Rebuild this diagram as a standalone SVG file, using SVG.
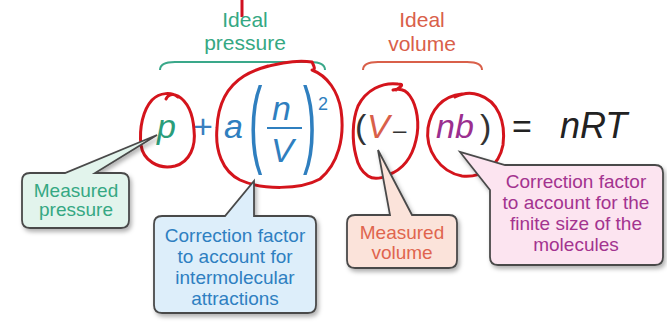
<svg xmlns="http://www.w3.org/2000/svg" width="667" height="325" viewBox="0 0 667 325">
<defs>
<filter id="sh" x="-10%" y="-10%" width="125%" height="130%">
<feDropShadow dx="2" dy="3" stdDeviation="2" flood-color="#000" flood-opacity="0.3"/>
</filter>
<style>
.eq{font-family:"Liberation Sans",Arial,sans-serif;font-size:34px}
.it{font-style:italic}
.lbl{font-family:"Liberation Sans",Arial,sans-serif;font-size:21px;text-anchor:middle}
.bx{font-family:"Liberation Sans",Arial,sans-serif;font-size:19px;text-anchor:middle}
.call{stroke:#4a4a4a;stroke-width:1.8;filter:url(#sh)}
.ring{fill:none;stroke:#d4141c;stroke-width:3;stroke-linecap:round;stroke-linejoin:round}
.brace{fill:none;stroke-width:2}
</style>
</defs>
<rect width="667" height="325" fill="#fff"/>

<g id="connectors">
<line x1="242" y1="0" x2="242" y2="17" stroke="#d01020" stroke-width="3"/>
<path class="brace" stroke="#3aa88a" d="M160,70 C160,64 165,62 175,62 L310,62 C320,62 325,64 325,70"/>
<path class="brace" stroke="#d9604a" d="M363,70 C363,64 368,62 378,62 L467,62 C477,62 482,64 482,70"/>
</g>

<g id="ideal-pressure">
<text class="lbl" x="245" y="27" fill="#35a883">Ideal</text>
<text class="lbl" x="245" y="50" fill="#35a883">pressure</text>
</g>
<g id="ideal-volume">
<text class="lbl" x="422" y="27" fill="#d9604a">Ideal</text>
<text class="lbl" x="422" y="51" fill="#d9604a">volume</text>
</g>

<g id="equation">
<text class="eq it" x="157" y="138" fill="#2a9d7a">p</text>
<text class="eq" x="193" y="138" fill="#3a7fbf">+</text>
<text class="eq it" x="224" y="138" fill="#2f7fbf">a</text>
<text class="eq" transform="translate(249,155) scale(1,2.4)" style="font-size:40px" fill="#2f7fbf">(</text>
<text class="eq it" x="272" y="120" fill="#2f7fbf">n</text>
<line x1="267" y1="128" x2="302" y2="128" stroke="#2f7fbf" stroke-width="2"/>
<text class="eq it" x="271" y="162" fill="#2f7fbf">V</text>
<text class="eq" transform="translate(303,155) scale(1,2.4)" style="font-size:40px" fill="#2f7fbf">)</text>
<text class="eq" x="318" y="110" style="font-size:18px" fill="#2f7fbf">2</text>
<text class="eq" x="355" y="138" fill="#333">(</text>
<text class="eq it" x="367" y="138" fill="#d9604a">V</text>
<text class="eq" x="393" y="138" style="font-size:24px" fill="#333">–</text>
<text class="eq it" x="436" y="138" fill="#9b2f8f">nb</text>
<text class="eq" x="480" y="138" fill="#333">)</text>
<text class="eq" x="512" y="138" fill="#222">=</text>
<text class="eq it" x="560" y="138" style="font-size:36px" fill="#222">nRT</text>
</g>

<g id="rings">
<path class="ring" d="M178,97 C172,92 160,92 152,100 C143,110 139,128 141,145 C143,160 158,170 175,166 C190,162 196,146 194,130 C193,115 188,102 178,96 C172,93 168,95 166,99"/>
<path class="ring" d="M262,68 C282,62 300,60 312,62 C314,66 316,70 312,70 C328,76 338,92 341,110 C345,138 338,164 320,179 C300,190 262,190 240,180 C222,171 215,150 217,128 C218,104 228,86 244,76 C252,71 258,69 268,66"/>
<path class="ring" d="M396,90 C402,86 404,84 398,84 C382,82 366,90 358,106 C352,121 352,141 356,156 C358,166 362,172 368,176 C374,180 382,178 388,175 C402,170 412,158 416,140 C420,124 417,106 410,96 C406,90 400,88 393,90"/>
<path class="ring" d="M462,94 C442,96 431,110 428,128 C425,150 440,172 462,176 C482,178 499,166 503,145 C506,122 498,101 479,95 C471,92 463,93 455,97"/>
</g>

<g id="measured-pressure">
<path class="call" fill="#e2f4ec" d="M30,173 L65,173 L157,135 L95,173 L121,173 Q129,173 129,181 L129,220 Q129,228 121,228 L30,228 Q22,228 22,220 L22,181 Q22,173 30,173 Z"/>
<text class="bx" x="76" y="197" fill="#35a883">Measured</text>
<text class="bx" x="76" y="216" fill="#35a883">pressure</text>
</g>

<g id="attraction-correction">
<path class="call" fill="#ddeefa" d="M162,216 L225,216 L254,181 L254,216 L308,216 Q316,216 316,224 L316,305 Q316,313 308,313 L162,313 Q154,313 154,305 L154,224 Q154,216 162,216 Z"/>
<text class="bx" x="235" y="242" fill="#2e7fc1">Correction factor</text>
<text class="bx" x="235" y="263" fill="#2e7fc1">to account for</text>
<text class="bx" x="235" y="284" fill="#2e7fc1">intermolecular</text>
<text class="bx" x="235" y="305" fill="#2e7fc1">attractions</text>
</g>

<g id="measured-volume">
<path class="call" fill="#fbe3da" d="M355,215 L390,215 L378,150 L412,215 L449,215 Q457,215 457,223 L457,260 Q457,268 449,268 L355,268 Q347,268 347,260 L347,223 Q347,215 355,215 Z"/>
<text class="bx" x="402" y="239" fill="#e0654e">Measured</text>
<text class="bx" x="402" y="259" fill="#e0654e">volume</text>
</g>

<g id="size-correction">
<path class="call" fill="#fce4f0" d="M505,165 L655,165 Q663,165 663,173 L663,257 Q663,265 655,265 L498,265 Q490,265 490,257 L490,190 L460,152 L505,165 Z"/>
<text class="bx" x="576" y="188" fill="#a3338f">Correction factor</text>
<text class="bx" x="576" y="209" fill="#a3338f">to account for the</text>
<text class="bx" x="576" y="230" fill="#a3338f">finite size of the</text>
<text class="bx" x="576" y="251" fill="#a3338f">molecules</text>
</g>
</svg>
